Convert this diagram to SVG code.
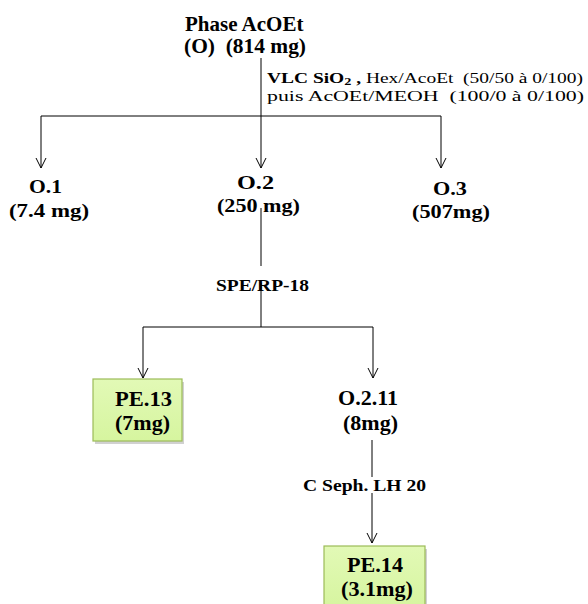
<svg xmlns="http://www.w3.org/2000/svg" width="588" height="604" viewBox="0 0 588 604">
<style>
  .t { font-family: 'Liberation Serif', serif; fill: #000; }
  .b { font-weight: bold; }
  .conn path { fill: none; stroke: #000; stroke-width: 1; }
  .box { fill: url(#g); stroke: #9cbb58; stroke-width: 1.2; }
  .shadow { fill: #000; opacity: 0.18; }
</style>
<defs>
  <linearGradient id="g" x1="0" y1="0" x2="0" y2="1">
    <stop offset="0" stop-color="#e2f9b6"/>
    <stop offset="1" stop-color="#d6f59f"/>
  </linearGradient>
  <marker id="arr" viewBox="-11 -7 13 14" refX="0" refY="0" markerWidth="13" markerHeight="14" markerUnits="userSpaceOnUse" orient="auto" overflow="visible">
    <path d="M-10,-5 L0,0 L-10,5" fill="none" stroke="#000" stroke-width="1"/>
  </marker>
</defs>

<g id="connectors" class="conn">
  <path d="M261,58 V168" marker-end="url(#arr)"/>
  <path d="M41,116 H441"/>
  <path d="M41,116 V168" marker-end="url(#arr)"/>
  <path d="M441,116 V168" marker-end="url(#arr)"/>
  <path d="M261,208 V266"/>
  <path d="M261,283 V327"/>
  <path d="M143,327 H373"/>
  <path d="M143,327 V378" marker-end="url(#arr)"/>
  <path d="M373,327 V378" marker-end="url(#arr)"/>
  <path d="M372,440 V477"/>
  <path d="M372,493 V543" marker-end="url(#arr)"/>
</g>

<g id="node-O">
  <text class="t b" font-family="Liberation Serif" x="185" y="31" font-size="21">Phase AcOEt</text>
  <text class="t b" x="184" y="53" font-size="21" textLength="122" lengthAdjust="spacingAndGlyphs" xml:space="preserve">(O)  (814 mg)</text>
</g>

<g id="label-VLC">
  <text class="t" x="267" y="83" font-size="15" textLength="316" lengthAdjust="spacingAndGlyphs" xml:space="preserve"><tspan class="b">VLC SiO</tspan><tspan class="b" font-size="11" dy="2">2</tspan><tspan class="b" dy="-2"> ,</tspan> Hex/AcoEt  (50/50 à 0/100)</text>
  <text class="t" x="267" y="101" font-size="15" textLength="317" lengthAdjust="spacingAndGlyphs" xml:space="preserve">puis AcOEt/MEOH  (100/0 à 0/100)</text>
</g>

<g id="node-O1">
  <text class="t b" x="29" y="193" font-size="19" textLength="33" lengthAdjust="spacingAndGlyphs">O.1</text>
  <text class="t b" x="9" y="217" font-size="19" textLength="80" lengthAdjust="spacingAndGlyphs">(7.4 mg)</text>
</g>

<g id="node-O2">
  <text class="t b" x="237" y="189" font-size="19" textLength="37" lengthAdjust="spacingAndGlyphs">O.2</text>
  <text class="t b" x="217" y="212" font-size="19" textLength="83" lengthAdjust="spacingAndGlyphs">(250 mg)</text>
</g>

<g id="node-O3">
  <text class="t b" x="433" y="195" font-size="19" textLength="34" lengthAdjust="spacingAndGlyphs">O.3</text>
  <text class="t b" x="412" y="218" font-size="19" textLength="78" lengthAdjust="spacingAndGlyphs">(507mg)</text>
</g>

<g id="label-SPE">
  <text class="t b" x="216" y="291" font-size="17" textLength="93" lengthAdjust="spacingAndGlyphs">SPE/RP-18</text>
</g>

<g id="node-PE13">
  <rect class="shadow" x="95" y="382" width="89" height="62"/>
  <rect class="box" x="93" y="379" width="89" height="62"/>
  <text class="t b" x="115" y="406" font-size="20" textLength="57" lengthAdjust="spacingAndGlyphs">PE.13</text>
  <text class="t b" x="115" y="430" font-size="20" textLength="55" lengthAdjust="spacingAndGlyphs">(7mg)</text>
</g>

<g id="node-O211">
  <text class="t b" x="338" y="405" font-size="20" textLength="60" lengthAdjust="spacingAndGlyphs">O.2.11</text>
  <text class="t b" x="343" y="430" font-size="20" textLength="55" lengthAdjust="spacingAndGlyphs">(8mg)</text>
</g>

<g id="label-Seph">
  <text class="t b" x="303" y="491" font-size="17" textLength="123" lengthAdjust="spacingAndGlyphs">C Seph. LH 20</text>
</g>

<g id="node-PE14">
  <rect class="shadow" x="326" y="549" width="101" height="62"/>
  <rect class="box" x="324" y="546" width="101" height="62"/>
  <text class="t b" x="347" y="572" font-size="20" textLength="56" lengthAdjust="spacingAndGlyphs">PE.14</text>
  <text class="t b" x="341" y="596" font-size="20" textLength="72" lengthAdjust="spacingAndGlyphs">(3.1mg)</text>
</g>
</svg>
